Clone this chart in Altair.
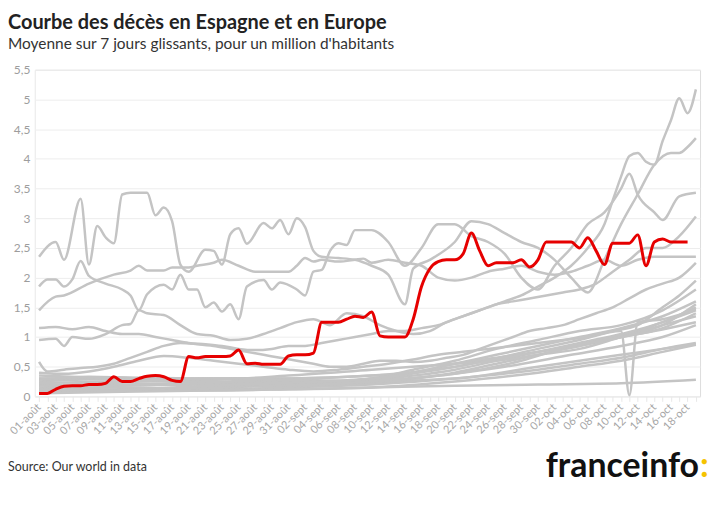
import datetime
import altair as alt
import pandas as pd

# ---- x categories (one per day, 1 Aug -> 19 Oct) ----
MONTHS = {8: "août", 9: "sept", 10: "oct"}
_start = datetime.date(2020, 8, 1)
LABELS = [
    f"{(_start + datetime.timedelta(days=i)).day:02d}-{MONTHS[(_start + datetime.timedelta(days=i)).month]}"
    for i in range(80)
]
SHOWN = LABELS[::2]
Y_TICKS = [0, 0.5, 1, 1.5, 2, 2.5, 3, 3.5, 4, 4.5, 5, 5.5]

# ---- Spain (red) daily values ----
SPAIN = [0.05, 0.05, 0.12, 0.17, 0.18, 0.18, 0.2, 0.2, 0.22, 0.33,
         0.25, 0.25, 0.3, 0.34, 0.35, 0.33, 0.27, 0.25, 0.67, 0.65,
         0.67, 0.67, 0.67, 0.68, 0.78, 0.55, 0.56, 0.54, 0.54, 0.54,
         0.68, 0.7, 0.7, 0.73, 1.25, 1.25, 1.25, 1.3, 1.35, 1.33,
         1.42, 1.02, 1.0, 1.0, 1.0, 1.3, 1.85, 2.15, 2.27, 2.3,
         2.3, 2.4, 2.75, 2.45, 2.2, 2.25, 2.25, 2.25, 2.3, 2.18,
         2.3, 2.6, 2.6, 2.6, 2.6, 2.5, 2.67, 2.45, 2.22, 2.58,
         2.58, 2.58, 2.72, 2.2, 2.6, 2.65, 2.6, 2.6, 2.6]

# ---- other European countries (grey), (day index, value) ----
G01 = [(0, 2.35), (2, 2.6), (3, 2.3), (5, 3.33), (6, 2.22), (7, 2.87), (8, 2.68), (9, 2.58), (10, 3.4),
       (11, 3.43), (13, 3.43), (14, 3.05), (15, 3.18), (16, 2.95), (17, 2.22), (18, 2.1), (20, 2.47),
       (21, 2.45), (22, 2.22), (23, 2.73), (24, 2.83), (25, 2.57), (27, 2.92), (28, 2.83), (29, 2.97),
       (30, 2.73), (31, 3.0), (32, 2.85), (33, 2.45), (34, 2.35), (36, 2.33), (38, 2.3), (40, 2.2),
       (42, 2.05), (44, 1.55), (45, 2.15), (47, 2.3), (50, 2.6), (52, 2.95), (54, 2.9), (56, 2.75),
       (58, 2.6), (60, 2.5), (62, 2.3), (64, 2.0), (66, 1.75), (68, 2.3), (70, 2.9), (72, 3.4),
       (74, 3.9), (76, 4.1), (77, 4.1), (78, 4.2), (79, 4.35)]
G02 = [(0, 1.85), (1, 1.97), (2, 1.97), (3, 1.85), (4, 1.97), (5, 2.28), (6, 2.03), (8, 1.9), (10, 1.8),
       (11, 1.7), (12, 1.45), (13, 1.72), (15, 1.88), (16, 1.8), (17, 2.05), (18, 1.8), (19, 1.8),
       (20, 1.5), (21, 1.58), (22, 1.43), (23, 1.55), (24, 1.3), (25, 1.85), (27, 1.96), (28, 1.8),
       (29, 1.92), (31, 1.8), (32, 1.7), (33, 2.1), (34, 2.13), (35, 2.45), (36, 2.58), (37, 2.55),
       (38, 2.8), (40, 2.8), (42, 2.6), (44, 2.2), (46, 2.5), (48, 2.9), (50, 2.9), (52, 2.7),
       (54, 2.6), (56, 2.4), (58, 2.0), (60, 1.8), (62, 2.2), (64, 2.5), (66, 2.9), (68, 3.1),
       (70, 3.5), (71, 3.75), (72, 3.4), (74, 3.1), (75, 2.97), (77, 3.37), (79, 3.43)]
G03 = [(0, 1.45), (2, 1.68), (3, 1.7), (6, 1.9), (9, 2.05), (11, 2.12), (12, 2.2), (13, 2.12), (15, 2.12),
       (16, 2.17), (18, 2.17), (19, 2.2), (21, 2.25), (22, 2.3), (24, 2.2), (26, 2.1), (28, 2.1),
       (30, 2.1), (31, 2.2), (32, 2.33), (33, 2.27), (34, 2.3), (36, 2.27), (38, 2.3), (39, 2.32),
       (40, 2.25), (42, 2.3), (44, 2.25), (46, 2.2), (48, 2.0), (50, 1.95), (52, 2.0), (54, 2.1),
       (56, 2.15), (58, 2.2), (60, 2.1), (62, 2.05), (64, 2.1), (66, 2.2), (68, 2.3), (70, 2.2),
       (72, 2.3), (74, 2.35), (79, 2.35)]
G04 = [(0, 1.15), (2, 1.17), (4, 1.13), (6, 1.17), (8, 1.1), (10, 1.05), (12, 1.05), (14, 1.0), (16, 0.95),
       (18, 0.9), (20, 0.88), (22, 0.85), (24, 0.8), (26, 0.78), (28, 0.8), (30, 0.85), (32, 0.85),
       (34, 0.9), (36, 0.95), (38, 1.0), (40, 1.05), (42, 1.1), (44, 1.1), (46, 1.15), (48, 1.2),
       (50, 1.3), (52, 1.4), (54, 1.5), (56, 1.6), (58, 1.7), (60, 1.85), (62, 2.0), (64, 2.2),
       (66, 2.5), (68, 2.9), (69, 3.3), (70, 3.7), (71, 4.05), (72, 4.1), (73, 3.95), (74, 3.9),
       (75, 4.3), (76, 4.65), (77, 5.02), (78, 4.77), (79, 5.17)]
G05 = [(0, 0.95), (2, 0.97), (3, 0.85), (4, 1.0), (6, 0.97), (8, 1.05), (10, 1.2), (11, 1.22), (12, 1.45),
       (13, 1.4), (15, 1.37), (17, 1.2), (19, 1.05), (21, 1.02), (23, 0.95), (25, 0.97), (27, 1.05),
       (29, 1.15), (31, 1.25), (33, 1.3), (35, 1.2), (37, 1.4), (39, 1.35), (41, 1.2), (43, 1.1),
       (45, 1.05), (47, 1.1), (49, 1.25), (51, 1.35), (53, 1.45), (55, 1.55), (57, 1.6), (59, 1.65),
       (61, 1.7), (63, 1.75), (65, 1.8), (67, 1.9), (69, 2.1), (71, 2.3), (73, 2.5), (75, 2.5),
       (77, 2.7), (79, 3.03)]
G06 = [(0, 0.58), (1, 0.42), (3, 0.45), (5, 0.48), (7, 0.5), (9, 0.55), (11, 0.65), (13, 0.75), (15, 0.85),
       (17, 0.9), (19, 0.88), (21, 0.85), (23, 0.8), (25, 0.75), (27, 0.7), (29, 0.65), (31, 0.6),
       (33, 0.55), (35, 0.5), (37, 0.5), (39, 0.55), (41, 0.6), (43, 0.6), (45, 0.58), (47, 0.6),
       (49, 0.65), (51, 0.7), (53, 0.8), (55, 0.9), (57, 1.0), (59, 1.1), (61, 1.15), (63, 1.2),
       (65, 1.3), (67, 1.4), (69, 1.5), (71, 1.65), (73, 1.8), (75, 1.9), (77, 2.0), (79, 2.25)]
G07 = [(0, 0.4), (3, 0.38), (6, 0.42), (9, 0.5), (12, 0.6), (15, 0.68), (18, 0.65), (21, 0.6), (24, 0.55),
       (27, 0.5), (30, 0.45), (33, 0.42), (36, 0.45), (39, 0.5), (42, 0.55), (45, 0.62), (48, 0.7),
       (51, 0.75), (54, 0.8), (57, 0.85), (60, 0.9), (63, 0.95), (66, 1.0), (69, 1.1), (72, 1.2),
       (75, 1.5), (77, 1.7), (79, 1.95)]
G08 = [(0, 0.3), (10, 0.28), (20, 0.25), (30, 0.22), (40, 0.3), (45, 0.45), (50, 0.6), (55, 0.8),
       (60, 0.95), (65, 1.1), (70, 1.2), (75, 1.45), (79, 1.8)]
G09 = [(0, 0.2), (10, 0.18), (20, 0.2), (30, 0.2), (40, 0.3), (45, 0.4), (50, 0.55), (55, 0.7),
       (60, 0.85), (65, 1.0), (70, 1.15), (75, 1.35), (79, 1.6)]
G10 = [(0, 0.15), (10, 0.2), (20, 0.22), (30, 0.25), (40, 0.28), (45, 0.35), (50, 0.45), (55, 0.6),
       (60, 0.75), (65, 0.9), (70, 1.05), (75, 1.25), (79, 1.5)]
G11 = [(0, 0.25), (10, 0.3), (20, 0.3), (30, 0.3), (40, 0.35), (45, 0.4), (50, 0.55), (55, 0.65),
       (60, 0.75), (65, 0.85), (68, 0.95), (72, 1.1), (75, 1.25), (79, 1.45)]
G12 = [(0, 0.1), (10, 0.12), (20, 0.15), (30, 0.18), (40, 0.22), (45, 0.3), (50, 0.4), (55, 0.55),
       (60, 0.7), (65, 0.85), (70, 1.0), (75, 1.2), (79, 1.35)]
G13 = [(0, 0.12), (10, 0.15), (20, 0.12), (30, 0.15), (40, 0.2), (50, 0.3), (60, 0.45), (65, 0.55),
       (70, 0.65), (75, 0.8), (79, 0.9)]
G14 = [(0, 0.08), (10, 0.1), (20, 0.1), (30, 0.12), (40, 0.15), (50, 0.25), (60, 0.4), (65, 0.5),
       (70, 0.6), (75, 0.75), (79, 0.87)]
G15 = [(0, 0.05), (10, 0.08), (20, 0.1), (30, 0.12), (40, 0.15), (50, 0.18), (60, 0.2), (70, 0.22),
       (79, 0.28)]
G16 = [(0, 0.3), (10, 0.32), (20, 0.3), (30, 0.3), (40, 0.35), (50, 0.5), (60, 0.8), (65, 0.95),
       (70, 1.1), (71, 0.02), (72, 1.25), (75, 1.3), (79, 1.47)]
G17 = [(0, 0.35), (10, 0.3), (20, 0.28), (30, 0.35), (40, 0.45), (50, 0.55), (55, 0.6), (60, 0.7),
       (65, 0.8), (70, 1.0), (75, 1.2), (79, 1.55)]
G18 = [(0, 0.22), (10, 0.25), (20, 0.25), (30, 0.28), (40, 0.25), (50, 0.3), (60, 0.5), (65, 0.6),
       (70, 0.7), (75, 0.8), (79, 0.88)]
G19 = [(0, 0.18), (8, 0.22), (16, 0.28), (24, 0.3), (32, 0.26), (40, 0.24), (48, 0.35), (56, 0.5),
       (64, 0.7), (70, 0.85), (75, 1.0), (79, 1.2)]
G20 = [(0, 0.28), (6, 0.33), (12, 0.3), (18, 0.22), (26, 0.18), (34, 0.2), (42, 0.28), (50, 0.38),
       (58, 0.6), (64, 0.85), (70, 1.0), (75, 1.15), (79, 1.4)]
G21 = [(0, 0.12), (8, 0.1), (16, 0.15), (24, 0.2), (32, 0.24), (40, 0.3), (48, 0.45), (56, 0.65),
       (62, 0.8), (68, 0.95), (74, 1.1), (79, 1.25)]

GREY = {"G01": G01, "G02": G02, "G03": G03, "G04": G04, "G05": G05, "G06": G06, "G07": G07,
        "G08": G08, "G09": G09, "G10": G10, "G11": G11, "G12": G12, "G13": G13, "G14": G14,
        "G15": G15, "G16": G16, "G17": G17, "G18": G18, "G19": G19, "G20": G20, "G21": G21}

rows = []
for name, pts in GREY.items():
    for d, v in pts:
        rows.append({"pays": name, "jour": LABELS[d], "v": v})
grey_df = pd.DataFrame(rows)
spain_df = pd.DataFrame({"jour": LABELS[:len(SPAIN)], "v": SPAIN})

FONT = "Lato"
shown_list = ",".join(f"'{s}'" for s in SHOWN)

x_enc = alt.X(
    "jour:O",
    sort=LABELS,
    scale=alt.Scale(type="point", domain=LABELS, padding=0.5),
    axis=alt.Axis(
        title=None,
        labelAngle=-45,
        labelAlign="right",
        labelBaseline="middle",
        labelExpr=f"indexof([{shown_list}], datum.value) >= 0 ? datum.label : ''",
        labelOverlap=False,
        labelColor="#a6a6a6",
        labelFontSize=11,
        labelFont=FONT,
        labelPadding=4,
        tickColor="#e8e8e8",
        tickSize=5,
        domain=False,
        grid=False,
    ),
)
y_enc = alt.Y(
    "v:Q",
    scale=alt.Scale(domain=[0, 5.5], nice=False),
    axis=alt.Axis(
        title=None,
        values=Y_TICKS,
        tickCount=12,
        labelExpr="replace(format(datum.value, '.1~f'), '.', ',')",
        labelOverlap=False,
        labelColor="#9d9d9d",
        labelFontSize=12,
        labelFont=FONT,
        labelPadding=5,
        ticks=False,
        domain=True,
        domainColor="#f0f0f0",
        gridColor="#ededed",
    ),
)

grey = alt.Chart(grey_df).mark_line(
    color="#c4c4c4", strokeWidth=2.5, interpolate="monotone"
).encode(x=x_enc, y=y_enc, detail="pays:N")

red = alt.Chart(spain_df).mark_line(
    color="#e60000", strokeWidth=3, interpolate="monotone"
).encode(x=x_enc, y=y_enc)

txt = pd.DataFrame({"t": ["x"]})


def label(text, x, y, size, color, weight="normal", align="left"):
    return alt.Chart(txt).mark_text(
        text=text, font=FONT, fontSize=size, color=color, fontWeight=weight,
        align=align, baseline="alphabetic"
    ).encode(x=alt.value(x), y=alt.value(y))


title = label("Courbe des décès en Espagne et en Europe", -27, -41, 20, "#222222", "bold")
subtitle = label("Moyenne sur 7 jours glissants, pour un million d'habitants", -27, -21, 15.5, "#333333")
source = label("Source: Our world in data", -27, 403, 12.5, "#333333")
logo = label("franceinfo", 667, 409, 34, "#111111", "bold", "right")
colon = label(":", 668, 409, 34, "#f5c300", "bold", "left")

chart = alt.layer(grey, red, title, subtitle, source, logo, colon).properties(
    width=668,
    height=328,
    padding={"left": 27, "top": 61, "right": 12, "bottom": 105},
    autosize=alt.AutoSizeParams(type="none"),
).configure_view(stroke=None).configure(font=FONT)

chart.save("out.html", embed_options={"renderer": "svg", "actions": False})
